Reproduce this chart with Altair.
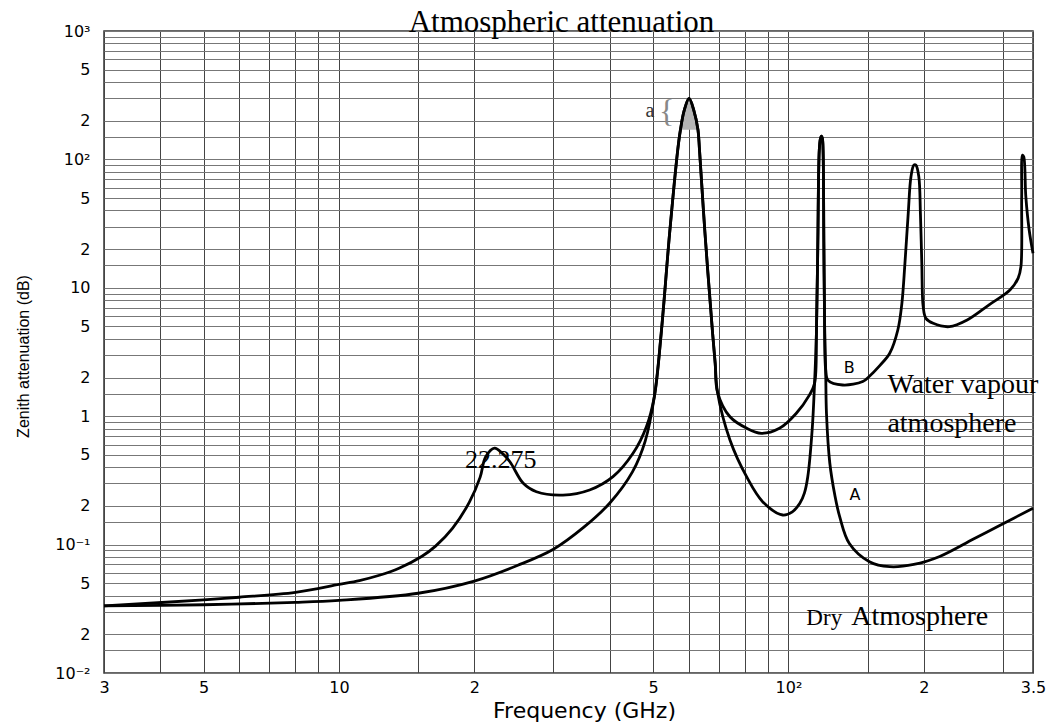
import altair as alt
import pandas as pd

# ---------------- data ----------------
# Curve A : dry atmosphere
dry_freq = [3, 5, 8, 10, 15, 20, 25, 30, 35, 40, 45, 48, 50.3, 52.1, 54.4, 56.7,
            57.5, 58.6, 60.1, 61.6, 62.9, 63.4, 65.2, 67.8, 68.7, 69.5, 74.1, 80.8,
            87.7, 97.1, 102, 106, 108.5, 110.4, 112.9, 114.3, 115.4, 116.2, 117.1,
            117.8, 118.4, 119.0, 119.4, 119.9, 120.4, 121.0, 121.5, 123.6, 126.8, 130,
            136.6, 151.4, 168, 190, 217, 258, 295, 350]
dry_db = [0.0333, 0.034, 0.0355, 0.0368, 0.0418, 0.052, 0.069, 0.092, 0.136, 0.21,
          0.37, 0.64, 1.42, 4.42, 26.6, 118, 170, 240, 299, 240, 170, 118, 26.6, 4.42,
          2.58, 1.55, 0.653, 0.335, 0.215, 0.17, 0.18, 0.21, 0.252, 0.338, 0.781, 1.8,
          4.42, 20.7, 118, 145, 152, 145, 118, 20.7, 4.42, 2.3, 1.05, 0.43, 0.243,
          0.165, 0.102, 0.0736, 0.0673, 0.070, 0.0808, 0.1105, 0.141, 0.192]

# Curve B : water-vapour atmosphere
wet_freq = [3, 5, 6, 8, 10, 11.1, 12.3, 13.6, 15.3, 16.4, 17.9, 19.5, 20.6, 21.2, 22.2,
            23.0, 24.0, 25.7, 27.5, 31.5, 36.1, 40.7, 45.1, 48.3, 50.3, 52.1, 54.4,
            56.7, 57.5, 58.6, 60.1, 61.6, 62.9, 63.4, 65.2, 67.8, 68.7, 69.5, 74.1,
            80.8, 87.0, 95.5, 104, 111.3, 114.3, 115.4, 116.2, 117.1, 117.8, 118.4,
            119.0, 119.4, 119.9, 120.4, 121.0, 122.5, 132, 146.3, 151, 160, 168,
            175.1, 178.8, 181.6, 184.7, 187.3, 190.1, 192.1, 195, 196.6, 198, 199.4,
            202.2, 209.9, 228, 249.8, 280, 311, 324.4, 329, 330.3, 331.7, 333.8, 337.4,
            343.2, 350]
wet_db = [0.0333, 0.0371, 0.0389, 0.0425, 0.049, 0.0525, 0.0577, 0.0655, 0.0812,
          0.0973, 0.1345, 0.214, 0.334, 0.484, 0.565, 0.52, 0.442, 0.3, 0.258, 0.243,
          0.266, 0.338, 0.514, 0.828, 1.42, 4.42, 26.6, 118, 170, 240, 299, 240, 170,
          118, 26.6, 4.42, 2.58, 1.55, 0.99, 0.805, 0.736, 0.805, 1.05, 1.46, 1.8,
          4.42, 20.7, 118, 145, 152, 145, 118, 20.7, 4.42, 2.3, 1.9, 1.75, 1.86, 2.03,
          2.5, 3.09, 4.69, 7.57, 15.5, 38, 73.3, 90.4, 90.4, 73.3, 38, 15.5, 7.13,
          5.78, 5.29, 4.98, 5.61, 7.4, 9.6, 11.9, 14.6, 51, 108, 105, 51, 28.2, 18.6]

# shaded tip of the 60 GHz oxygen band ("a")
shade_freq = [57.5, 58.6, 60.1, 61.6, 62.9]
shade_db = [170, 240, 299, 240, 170]
shade_base = 170

# grid lines and tick labels
x_grid = [3, 4, 5, 6, 7, 8, 9, 10, 15, 20, 30, 40, 50, 60, 70, 80, 90, 100, 150, 200, 300, 350]
x_label_values = [3, 5, 10, 20, 50, 100, 200, 350]
x_label_texts = ["3", "5", "10", "2", "5", "10²", "2", "3.5"]

y_mantissas = ["1", "1.5", "2", "3", "4", "5", "6", "7", "8", "9"]
y_exponents = [-2, -1, 0, 1, 2]
y_grid = [float(f"{m}e{e}") for e in y_exponents for m in y_mantissas] + [1000.0]
y_label_values = [0.01, 0.02, 0.05, 0.1, 0.2, 0.5, 1.0, 2.0, 5.0, 10.0, 20.0, 50.0,
                  100.0, 200.0, 500.0, 1000.0]
y_label_texts = ["10⁻²", "2", "5", "10⁻¹", "2", "5", "1", "2", "5", "10", "2", "5",
                 "10²", "2", "5", "10³"]

# annotations (text, frequency, attenuation)
serif_texts = ["Water vapour", "atmosphere", "Atmosphere"]
serif_freq = [166, 166, 138]
serif_db = [1.51, 0.757, 0.0237]

line_labels = ["B", "A"]
line_label_freq = [136.6, 140.6]
line_label_db = [2.37, 0.243]

# ---------------- build the chart ----------------
def label_expr(values, texts):
    expr = "''"
    for v, t in zip(reversed(values), reversed(texts)):
        expr = f"datum.value == {float(v)!r} ? '{t}' : ({expr})"
    return expr

xscale = alt.Scale(type="log", domain=[3, 350], nice=False)
yscale = alt.Scale(type="log", domain=[0.01, 1000], nice=False)

xaxis = alt.Axis(values=x_grid, labelExpr=label_expr(x_label_values, x_label_texts),
                 grid=True, gridColor="#444444", gridWidth=1, ticks=False, domain=False,
                 labelFont="DejaVu Sans", labelFontSize=16, labelColor="black",
                 labelPadding=6, labelFlush=False, labelOverlap=False, labelBound=False,
                 title="Frequency (GHz)", titleFont="DejaVu Sans", titleFontSize=22,
                 titleFontWeight="normal", titleColor="black", titleX=480, titleY=44,
                 titleAlign="center", titleBaseline="alphabetic")
yaxis = alt.Axis(values=y_grid, labelExpr=label_expr(y_label_values, y_label_texts),
                 grid=True, gridColor="#777777", gridWidth=1, ticks=False, domain=False,
                 labelFont="DejaVu Sans", labelFontSize=16, labelColor="black",
                 labelPadding=14, labelAlign="right", labelBaseline="middle",
                 labelFlush=False, labelOverlap=False, labelBound=False,
                 title="Zenith attenuation (dB)",
                 titleFont="Liberation Sans Narrow, Arial Narrow, Liberation Sans",
                 titleFontSize=16, titleFontWeight="normal", titleColor="black",
                 titleX=-76, titleY=325, titleAngle=270, titleAlign="center",
                 titleBaseline="alphabetic")

def X():
    return alt.X("freq:Q", scale=xscale, axis=xaxis, title="Frequency (GHz)")

def Y():
    return alt.Y("db:Q", scale=yscale, axis=yaxis, title="Zenith attenuation (dB)")

lines_df = pd.concat([
    pd.DataFrame({"freq": dry_freq, "db": dry_db, "curve": "A"}),
    pd.DataFrame({"freq": wet_freq, "db": wet_db, "curve": "B"}),
])
shade_df = pd.DataFrame({"freq": shade_freq, "db": shade_db, "base": shade_base})
serif_df = pd.DataFrame({"freq": serif_freq, "db": serif_db, "text": serif_texts})
ab_df = pd.DataFrame({"freq": line_label_freq, "db": line_label_db, "text": line_labels})
peak_df = pd.DataFrame({"freq": [22.9], "db": [0.395], "text": ["22.275"]})
dry_df = pd.DataFrame({"freq": [109.6], "db": [0.0237], "text": ["Dry"]})
a_df = pd.DataFrame({"freq": [49.2], "db": [214], "text": ["a"]})
brace_df = pd.DataFrame({"freq": [53.6], "db": [232], "text": ["{"]})

shade = alt.Chart(shade_df).mark_area(color="#b5b5b5", interpolate="catmull-rom").encode(
    x=X(), y=Y(), y2="base:Q")
lines = alt.Chart(lines_df).mark_line(color="black", strokeWidth=2.8,
                                      interpolate="catmull-rom").encode(
    x=X(), y=Y(), detail="curve:N")
serif = alt.Chart(serif_df).mark_text(align="left", baseline="alphabetic",
                                      font="Liberation Serif", fontSize=28,
                                      color="black").encode(x=X(), y=Y(), text="text:N")
ab = alt.Chart(ab_df).mark_text(align="center", baseline="middle", font="DejaVu Sans",
                                fontSize=16, color="black").encode(x=X(), y=Y(), text="text:N")
peak = alt.Chart(peak_df).mark_text(align="center", baseline="alphabetic",
                                    font="Liberation Serif", fontSize=26,
                                    color="black").encode(x=X(), y=Y(), text="text:N")
dry = alt.Chart(dry_df).mark_text(align="left", baseline="alphabetic",
                                  font="Liberation Serif", fontSize=23,
                                  color="black").encode(x=X(), y=Y(), text="text:N")
a_txt = alt.Chart(a_df).mark_text(align="center", baseline="alphabetic",
                                  font="Liberation Serif", fontSize=20,
                                  color="#333333").encode(x=X(), y=Y(), text="text:N")
brace = alt.Chart(brace_df).mark_text(align="center", baseline="middle",
                                      font="Liberation Serif", fontSize=32,
                                      color="#888888").encode(x=X(), y=Y(), text="text:N")
title = alt.Chart(pd.DataFrame({"text": ["Atmospheric attenuation"]})).mark_text(
    align="center", baseline="alphabetic", font="Liberation Serif", fontSize=31,
    color="black").encode(x=alt.value(457.5), y=alt.value(1), text="text:N")

chart = alt.layer(shade, lines, serif, ab, peak, dry, a_txt, brace, title).properties(
    width=929, height=642,
    autosize=alt.AutoSizeParams(type="none"),
    padding={"left": 104, "top": 31, "right": 17, "bottom": 49},
    background="white",
).configure_view(stroke="#333333", strokeWidth=1.5)

chart.save("out.html", embed_options={"renderer": "svg", "actions": False})
